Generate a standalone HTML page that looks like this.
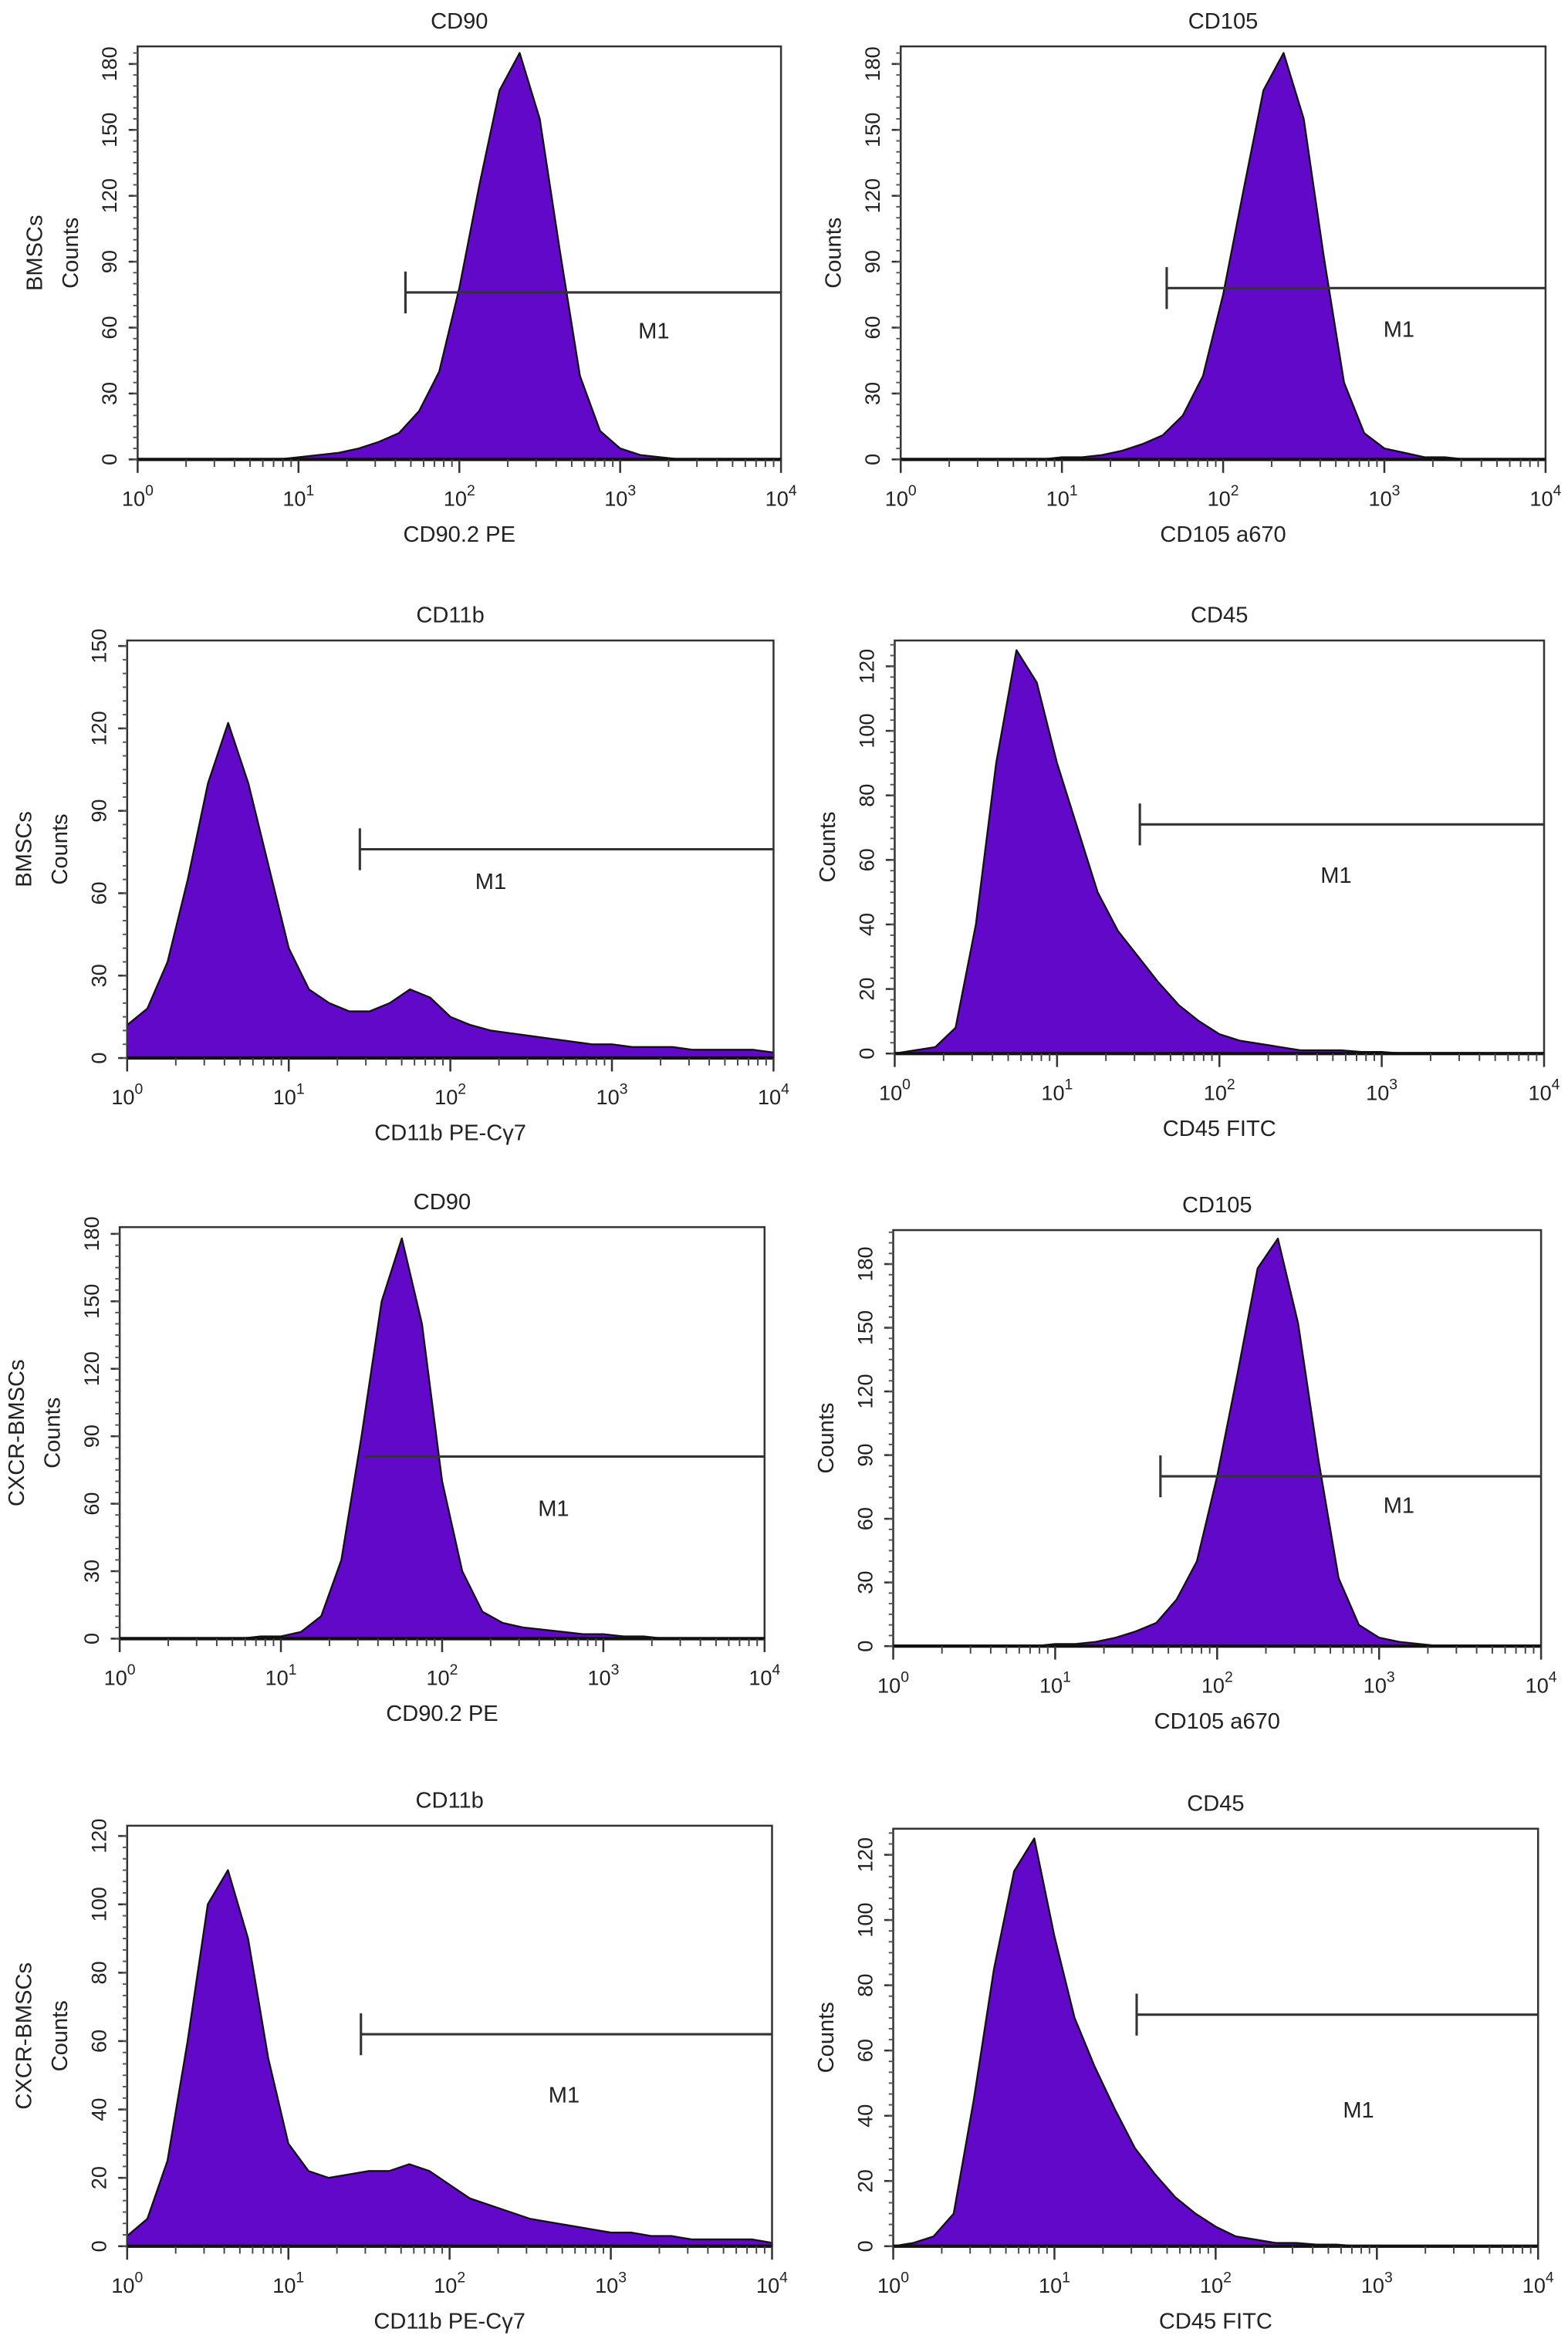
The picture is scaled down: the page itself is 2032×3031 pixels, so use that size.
<!DOCTYPE html>
<html><head><meta charset="utf-8">
<style>
html,body{margin:0;padding:0;background:#fff;}
svg{display:block;}
text{font-family:"Liberation Sans",Arial,sans-serif;fill:#222;}
</style></head>
<body>
<svg id="fig" width="2032" height="3031" viewBox="0 0 1048 1563" preserveAspectRatio="none" xmlns="http://www.w3.org/2000/svg"></svg>
<script>
// shared log bins (decades 0..4, step 0.125)
const logBins = [0,0.125,0.25,0.375,0.5,0.625,0.75,0.875,1,1.125,1.25,1.375,1.5,1.625,1.75,1.875,2,2.125,2.25,2.375,2.5,2.625,2.75,2.875,3,3.125,3.25,3.375,3.5,3.625,3.75,3.875,4];
const xTickLabels = ["0","1","2","3","4"];

const titles = ["CD90","CD105","CD11b","CD45","CD90","CD105","CD11b","CD45"];
const xTitles = ["CD90.2 PE","CD105 a670","CD11b PE-Cγ7","CD45 FITC","CD90.2 PE","CD105 a670","CD11b PE-Cγ7","CD45 FITC"];
const yTitles = [["BMSCs","Counts"],["Counts"],["BMSCs","Counts"],["Counts"],["CXCR-BMSCs","Counts"],["Counts"],["CXCR-BMSCs","Counts"],["Counts"]];
const yMax = [188,188,152,128,183,196,123,128];
const yStep = [30,30,30,20,30,30,20,20];
const yTop = [180,180,150,120,180,180,120,120];

const countsA = [0,0,0,0,0,0,0,0,1,2,3,5,8,12,22,40,78,125,168,185,155,95,38,13,5,2,1,0,0,0,0,0,0];
const countsB = [0,0,0,0,0,0,0,0,1,1,2,4,7,11,20,38,75,122,168,185,155,92,35,12,5,3,1,1,0,0,0,0,0];
const countsC = [12,18,35,65,100,122,100,70,40,25,20,17,17,20,25,22,15,12,10,9,8,7,6,5,5,4,4,4,3,3,3,3,2];
const countsD = [0,1,2,8,40,90,125,115,90,70,50,38,30,22,15,10,6,4,3,2,1,1,1,0.5,0.5,0,0,0,0,0,0,0,0];
const countsE = [0,0,0,0,0,0,0,1,1,3,10,35,90,150,178,140,70,30,12,7,5,4,3,2,2,1,1,0,0,0,0,0,0];
const countsF = [0,0,0,0,0,0,0,0,1,1,2,4,7,11,22,40,80,128,178,192,152,88,32,10,4,2,1,0,0,0,0,0,0];
const countsG = [3,8,25,60,100,110,90,55,30,22,20,21,22,22,24,22,18,14,12,10,8,7,6,5,4,4,3,3,2,2,2,2,1];
const countsH = [0,1,3,10,45,85,115,125,95,70,55,42,30,22,15,10,6,3,2,1,1,0.5,0.5,0,0,0,0,0,0,0,0,0,0];
const allCounts = [countsA,countsB,countsC,countsD,countsE,countsF,countsG,countsH];

const gateStart = [1.665,1.65,1.44,1.51,1.52,1.65,1.45,1.51];
const gateLevel = [76,78,76,71,81,80,62,71];
const gateTickShown = [true,true,true,true,false,true,true,true];

// layout boxes (preview units)
const boxes = [[92,31,522,307],[602,31,1033,307],[85,428,517,707],[598,428,1032,704],[80,820,511,1095],[597,822,1030,1100],[85,1220,516,1501],[597,1222,1028,1501]];
const m1Pos = [[437,221],[935,220],[328,589],[893,585],[370,1008],[935,1006],[377,1400],[908,1410]];

const NS = "http://www.w3.org/2000/svg";
const svg = document.getElementById('fig');
function mk(tag, attrs, parent){
  const e = document.createElementNS(NS, tag);
  for (const k in attrs) e.setAttribute(k, attrs[k]);
  (parent||svg).appendChild(e);
  return e;
}

for (let p=0;p<8;p++){
  const [x0,y0,x1,y1] = boxes[p];
  const g = mk('g',{});
  
  
  const xs = v => x0 + (v/4)*(x1-x0);
  const ys = c => y1 - (c/yMax[p])*(y1-y0);

  const t = mk('text',{x:(x0+x1)/2,y:y0-12,'font-size':15,'text-anchor':'middle'},g);
  t.textContent = titles[p];
  
  

  const c = allCounts[p];
  let d = 'M'+xs(logBins[0])+','+ys(0);
  for (let i=0;i<logBins.length;i++) d += ' L'+xs(logBins[i]).toFixed(2)+','+ys(c[i]).toFixed(2);
  d += ' L'+xs(logBins[logBins.length-1])+','+ys(0)+' Z';
  const h = mk('path',{d:d,fill:'#6209c9',stroke:'#111','stroke-width':1.2,'stroke-linejoin':'round'},g);
  
  

  const fr = mk('rect',{x:x0,y:y0,width:x1-x0,height:y1-y0,fill:'none',stroke:'#333','stroke-width':1.3},g);
  
  
  mk('line',{x1:x0,y1:y1,x2:x1,y2:y1,stroke:'#111','stroke-width':2.2},g);

  for (let v=0; v<=yTop[p]; v+=yStep[p]){
    const yy = ys(v);
    mk('line',{x1:x0-6,y1:yy,x2:x0,y2:yy,stroke:'#333','stroke-width':1.3},g);
    const tl = mk('text',{x:x0-14,y:yy,'font-size':14,'text-anchor':'middle',transform:'rotate(-90 '+(x0-14)+' '+yy+')'},g);
    tl.textContent = String(v);
    
    
  }
  for (let v=0; v<=yMax[p]; v+=yStep[p]/6){
    mk('line',{x1:x0-3,y1:ys(v),x2:x0,y2:ys(v),stroke:'#555','stroke-width':1},g);
  }
  const yt = yTitles[p];
  const ymid = (y0+y1)/2;
  for (let k=0;k<yt.length;k++){
    const xx = x0 - 40 - (yt.length-1-k)*24;
    const tt = mk('text',{x:xx,y:ymid,'font-size':15,'text-anchor':'middle',transform:'rotate(-90 '+xx+' '+ymid+')'},g);
    tt.textContent = yt[k];
    
    
  }

  for (let dd=0; dd<=4; dd++){
    mk('line',{x1:xs(dd),y1:y1,x2:xs(dd),y2:y1+9,stroke:'#333','stroke-width':1.3},g);
    const tx = mk('text',{x:xs(dd),y:y1+31,'font-size':14,'text-anchor':'middle'},g);
    tx.textContent = '10';
    const sp = mk('tspan',{dy:-7,'font-size':10},tx);
    sp.textContent = xTickLabels[dd];
    
    
    if (dd<4) for (let m=2;m<=9;m++){
      const lx = xs(dd+Math.log10(m));
      mk('line',{x1:lx,y1:y1,x2:lx,y2:y1+5,stroke:'#444','stroke-width':1},g);
    }
  }
  const xt = mk('text',{x:(x0+x1)/2,y:y1+55,'font-size':15,'text-anchor':'middle'},g);
  xt.textContent = xTitles[p];
  
  

  const gx = xs(gateStart[p]), gy = ys(gateLevel[p]);
  const gl = mk('line',{x1:gx,y1:gy,x2:x1,y2:gy,stroke:'#333','stroke-width':1.6},g);
  
  
  if (gateTickShown[p]) mk('line',{x1:gx,y1:gy-14,x2:gx,y2:gy+14,stroke:'#333','stroke-width':1.6},g);
  const ml = mk('text',{x:m1Pos[p][0],y:m1Pos[p][1]+5,'font-size':15,'text-anchor':'middle'},g);
  ml.textContent = 'M1';
  
  
}
</script>
</body></html>
